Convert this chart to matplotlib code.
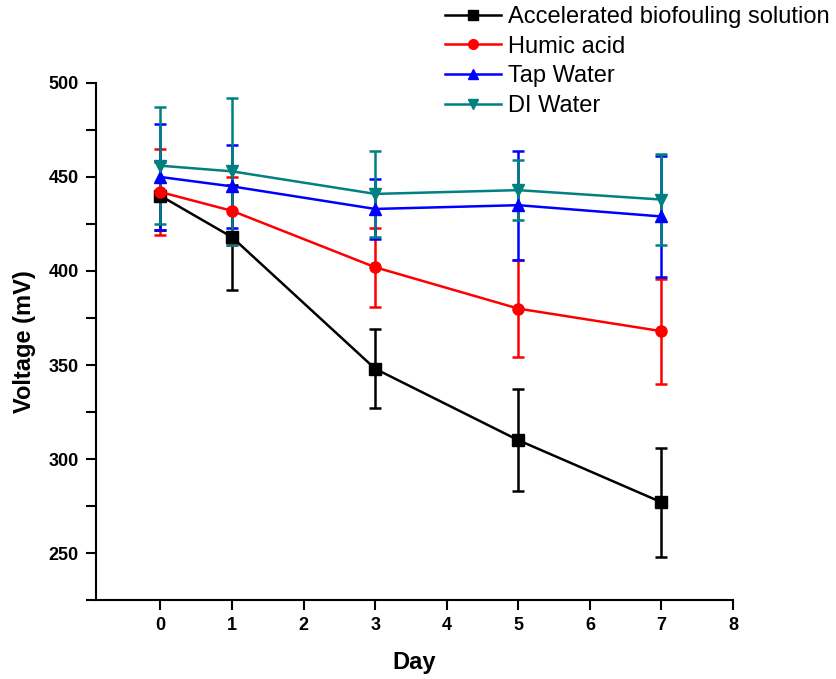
import numpy as np
import matplotlib.pyplot as plt
from matplotlib.ticker import MultipleLocator
from matplotlib.lines import Line2D

plt.rcParams['font.family'] = ['Liberation Sans', 'DejaVu Sans']

days = [0, 1, 3, 5, 7]

bio = [440, 418, 348, 310, 277]
bio_err = [18, 28, 21, 27, 29]
humic = [442, 432, 402, 380, 368]
humic_err = [23, 18, 21, 26, 28]
tap = [450, 445, 433, 435, 429]
tap_err = [28, 22, 16, 29, 32]
di = [456, 453, 441, 443, 438]
di_err = [31, 39, 23, 16, 24]

labels = ['Accelerated biofouling solution', 'Humic acid', 'Tap Water', 'DI Water']

fig = plt.figure(figsize=(8.37, 6.79), dpi=100)
ax = fig.add_axes([0.1147, 0.1163, 0.7611, 0.7615])

series = [
    (bio, bio_err, 'black', 's'),
    (humic, humic_err, 'red', 'o'),
    (tap, tap_err, 'blue', '^'),
    (di, di_err, '#008080', 'v'),
]
handles = []
for (y, e, c, m), lab in zip(series, labels):
    ax.errorbar(days, y, yerr=e, color=c, marker=m, markersize=8,
                linewidth=1.8, elinewidth=1.8, capsize=4.5, capthick=1.8)
    handles.append(Line2D([], [], color=c, marker=m, markersize=7, linewidth=1.8))

ax.set_xlim(-0.9, 8)
ax.set_ylim(225, 500)
ax.set_xticks(range(0, 9))
ax.set_yticks([250, 300, 350, 400, 450, 500])
ax.yaxis.set_minor_locator(MultipleLocator(25))

ax.spines['top'].set_visible(False)
ax.spines['right'].set_visible(False)
ax.spines['left'].set_linewidth(1.5)
ax.spines['bottom'].set_linewidth(1.5)
ax.tick_params(which='major', direction='out', length=7.5, width=1.5, labelsize=13, pad=5)
ax.tick_params(which='minor', direction='out', length=7.5, width=1.5)
for t in ax.get_xticklabels() + ax.get_yticklabels():
    t.set_fontweight('bold')

ax.set_xlabel('Day', fontsize=17, fontweight='bold', labelpad=12)
ax.set_ylabel('Voltage (mV)', fontsize=17, fontweight='bold', labelpad=9)

fig.legend(handles=handles, labels=labels, loc='upper left',
           bbox_to_anchor=(0.5317, 0.991), frameon=False, fontsize=17,
           borderpad=0, borderaxespad=0,
           handlelength=2.35, handletextpad=0.3, labelspacing=0.32)

fig.savefig('out.png', dpi=100)
